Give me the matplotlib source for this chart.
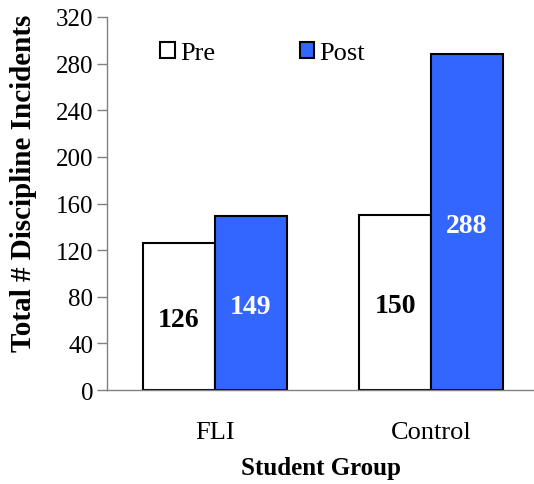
import matplotlib
matplotlib.use("Agg")
import matplotlib.pyplot as plt
from matplotlib.font_manager import FontProperties
import numpy as np

groups = ["FLI", "Control"]
pre = [126, 150]
post = [149, 288]
series_names = ["Pre", "Post"]
yticks = [0, 40, 80, 120, 160, 200, 240, 280, 320]

FAM = ['Liberation Serif', 'DejaVu Serif']
plt.rcParams['font.family'] = FAM

fig = plt.figure(figsize=(5.34, 4.85), dpi=100)
ax = fig.add_axes([0.2004, 0.1938, 0.7996, 0.7691])

x = np.arange(len(groups))
w = 1/3
b1 = ax.bar(x - w/2, pre, w, color='white', edgecolor='black', linewidth=1.5, label=series_names[0])
b2 = ax.bar(x + w/2, post, w, color='#3366FF', edgecolor='black', linewidth=1.5, label=series_names[1])

for rect, v in zip(b1, pre):
    ax.text(rect.get_x() + rect.get_width()/2, v/2, str(v), ha='center', va='center_baseline',
            fontsize=20, fontweight='bold', color='black', family=FAM)
for rect, v in zip(b2, post):
    ax.text(rect.get_x() + rect.get_width()/2, v/2, str(v), ha='center', va='center_baseline',
            fontsize=20, fontweight='bold', color='white', family=FAM)

ax.set_ylim(0, 320)
ax.set_yticks(yticks)
ax.set_yticklabels([str(t) for t in yticks], fontsize=18, family=FAM)
ax.set_xlim(-0.5, 1.5 - 5/216)
ax.set_xticks(x)
ax.set_xticklabels(groups, fontsize=19, family=FAM)
ax.tick_params(axis='x', length=0, pad=22)
ax.tick_params(axis='y', length=7, width=1, color='#808080', pad=3)
for s in ['top', 'right']:
    ax.spines[s].set_visible(False)
for s in ['left', 'bottom']:
    ax.spines[s].set_color('#808080')
    ax.spines[s].set_linewidth(1)

ax.set_ylabel("Total # Discipline Incidents", fontsize=21, fontweight='bold', family=FAM)
ax.yaxis.set_label_coords(-0.165, 0.558)
ax.set_xlabel("Student Group", fontsize=18, fontweight='bold', labelpad=10, family=FAM)

ax.legend(loc='upper left', bbox_to_anchor=(0.075, 0.99), ncol=2, frameon=False,
          prop=FontProperties(family=FAM, size=19),
          handlelength=0.55, handleheight=0.55, handletextpad=0.2,
          columnspacing=3.2, borderaxespad=0.4)

fig.savefig("out.png", dpi=100)
